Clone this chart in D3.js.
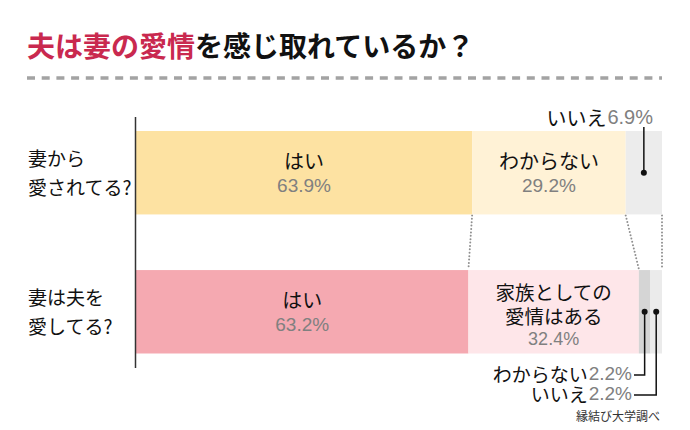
<!DOCTYPE html>
<html>
<head>
<meta charset="utf-8">
<script src="https://cdn.jsdelivr.net/npm/d3@7"></script>
<style>
  body { margin: 0; background: #fff; }
  svg text { font-family: "Noto Sans CJK JP", sans-serif; }
  svg .pct { font-family: "Liberation Sans", Arial, sans-serif; }
</style>
</head>
<body>
<div id="chart"></div>
<script>
// data
const titleRed = "夫は妻の愛情";
const titleBlack = "を感じ取れているか？";
const questions = ["妻から\n愛されてる?", "妻は夫を\n愛してる?"];
const answers1 = ["はい", "わからない", "いいえ"];
const values1 = [63.9, 29.2, 6.9];
const answers2 = ["はい", "家族としての\n愛情はある", "わからない", "いいえ"];
const values2 = [63.2, 32.4, 2.2, 2.2];
const colors1 = ["#fde2a2", "#fff2d6", "#ececec"];
const colors2 = ["#f5a9b1", "#fee6e9", "#d5d5d5", "#ebebeb"];
const source = "縁結び大学調べ";

const width = 690, height = 430;

const svg = d3.select("#chart").append("svg")
    .attr("width", width)
    .attr("height", height);

// title
const title = svg.append("text")
    .attr("x", 27)
    .attr("y", 45)
    .attr("dominant-baseline", "central")
    .style("font-size", "28px")
    .style("font-weight", 700);
title.append("tspan").attr("fill", "#c9294f").text(titleRed);
title.append("tspan").attr("fill", "#111").text(titleBlack);

svg.append("line")
    .attr("x1", 27).attr("x2", 662)
    .attr("y1", 78).attr("y2", 78)
    .attr("stroke", "#a3a3a3")
    .attr("stroke-width", 3.5)
    .attr("stroke-dasharray", "8,6.7");

// scales
const x = d3.scaleLinear().domain([0, 100]).range([136, 662]);
const y = d3.scaleBand()
    .domain(questions)
    .range([131, 353.5])
    .paddingInner(0.4)
    .paddingOuter(0);

const rows = [
    {q: questions[0], answers: answers1, values: values1, colors: colors1},
    {q: questions[1], answers: answers2, values: values2, colors: colors2}
];
rows.forEach(r => {
    let c = 0;
    r.segs = r.values.map((v, i) => {
        const s = {label: r.answers[i], value: v, x0: c, x1: c + v, color: r.colors[i]};
        c += v;
        return s;
    });
});

// dotted connectors between the two bars
const bw = y.bandwidth();
const links = [
    [rows[0].segs[0].x1, rows[1].segs[0].x1],
    [rows[0].segs[1].x1, rows[1].segs[1].x1],
    [rows[0].segs[2].x1, rows[1].segs[3].x1]
];
svg.selectAll(".link")
    .data(links)
    .enter().append("line")
    .attr("class", "link")
    .attr("x1", d => x(d[0]))
    .attr("y1", y(questions[0]) + bw + 1)
    .attr("x2", d => x(d[1]))
    .attr("y2", y(questions[1]) - 1)
    .attr("stroke", "#8f8f8f")
    .attr("stroke-width", 2)
    .attr("stroke-linecap", "round")
    .attr("stroke-dasharray", "0,3.4");

// bars
const rowG = svg.selectAll(".row")
    .data(rows)
    .enter().append("g")
    .attr("class", "row");

rowG.selectAll("rect")
    .data(d => d.segs.map(s => Object.assign({q: d.q}, s)))
    .enter().append("rect")
    .attr("x", d => x(d.x0))
    .attr("y", d => y(d.q))
    .attr("width", d => x(d.x1) - x(d.x0))
    .attr("height", bw)
    .attr("fill", d => d.color);

// axis line
svg.append("line")
    .attr("x1", 135.5).attr("x2", 135.5)
    .attr("y1", 117).attr("y2", 368)
    .attr("stroke", "#333")
    .attr("stroke-width", 1.5);

// question labels
questions.forEach(q => {
    const lines = q.split("\n");
    const cy = y(q) + bw / 2;
    svg.append("text")
        .attr("x", 28)
        .attr("fill", "#111")
        .style("font-size", "19px")
        .selectAll("tspan")
        .data(lines)
        .enter().append("tspan")
        .attr("x", 28)
        .attr("y", (d, i) => cy - 15 + i * 29)
        .attr("dominant-baseline", "central")
        .text(d => d);
});

// labels inside the big segments
rows.forEach(r => {
    const cy = y(r.q) + bw / 2;
    r.segs.filter(s => s.value > 10).forEach(s => {
        const cx = x((s.x0 + s.x1) / 2);
        const lines = s.label.split("\n");
        const multi = lines.length > 1;
        const lh = 24;
        const n = lines.length + 1;
        const top = cy - (n - 1) * lh / 2 + (multi ? 4 : 0);
        lines.forEach((l, i) => {
            svg.append("text")
                .attr("x", cx).attr("y", top + i * lh)
                .attr("text-anchor", "middle")
                .attr("dominant-baseline", "central")
                .attr("fill", "#111")
                .style("font-size", multi ? "19.5px" : "20px")
                .text(l);
        });
        svg.append("text")
            .attr("class", "pct")
            .attr("x", cx).attr("y", top + lines.length * lh + (multi ? -1 : 1))
            .attr("text-anchor", "middle")
            .attr("dominant-baseline", "central")
            .attr("fill", "#808080")
            .style("font-size", multi ? "18px" : "19px")
            .text(s.value.toFixed(1) + "%");
    });
});

// small segment callouts
function callout(label, value, tx, ty, size) {
    const p = svg.append("text")
        .attr("class", "pct")
        .attr("x", tx).attr("y", ty)
        .attr("text-anchor", "end")
        .attr("dominant-baseline", "central")
        .attr("fill", "#808080")
        .style("font-size", size + "px")
        .text(value.toFixed(1) + "%");
    const w = p.node().getComputedTextLength();
    svg.append("text")
        .attr("x", tx - w - 1).attr("y", ty)
        .attr("text-anchor", "end")
        .attr("dominant-baseline", "central")
        .attr("fill", "#111")
        .style("font-size", size + "px")
        .text(label);
}

// row 1: label above the bar
const s13 = rows[0].segs[2];
const cy1 = y(rows[0].q) + bw / 2;
const sx13 = x((s13.x0 + s13.x1) / 2);
svg.append("line")
    .attr("x1", sx13).attr("x2", sx13)
    .attr("y1", 127).attr("y2", cy1)
    .attr("stroke", "#111").attr("stroke-width", 1.5);
svg.append("circle").attr("cx", sx13).attr("cy", cy1).attr("r", 3).attr("fill", "#111");
callout(s13.label, s13.value, 653, 117, 20);

// row 2: labels below the bar
const cy2 = y(rows[1].q) + bw / 2;
[rows[1].segs[2], rows[1].segs[3]].forEach((s, i) => {
    const sx = x((s.x0 + s.x1) / 2);
    const ly = 373 + i * 20;
    svg.append("path")
        .attr("d", `M${sx},${cy2}V${ly + 2}H634`)
        .attr("fill", "none")
        .attr("stroke", "#111").attr("stroke-width", 1.5);
    svg.append("circle").attr("cx", sx).attr("cy", cy2).attr("r", 3).attr("fill", "#111");
    callout(s.label, s.value, 632, ly, 19);
});

// source
svg.append("text")
    .attr("x", 660).attr("y", 415)
    .attr("text-anchor", "end")
    .attr("dominant-baseline", "central")
    .attr("fill", "#333")
    .style("font-size", "12px")
    .text(source);
</script>
</body>
</html>
